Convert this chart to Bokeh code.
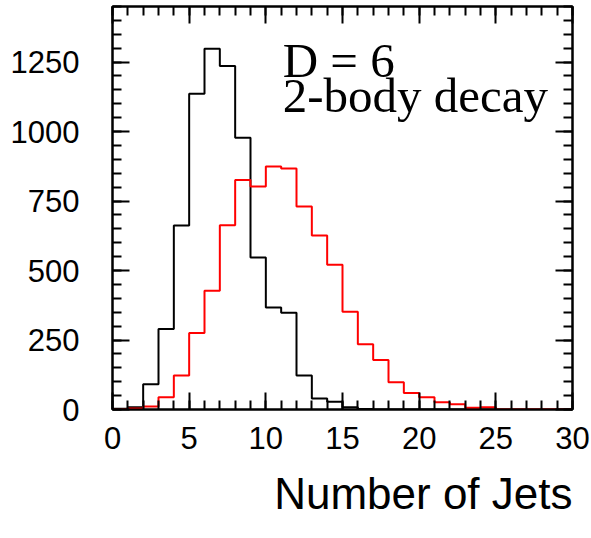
from bokeh.plotting import figure
from bokeh.models import (LinearAxis, SingleIntervalTicker, Range1d, Label, Title,
                          CustomJSTickFormatter)
from bokeh.embed import file_html
from bokeh.resources import INLINE

# ---- data ----
bin_edges = list(range(0, 31))
black_counts = [3, 8, 91, 290, 662, 1136, 1298, 1236, 978, 547, 367, 348, 122, 40, 28,
                8, 2, 0, 0, 0, 0, 0, 0, 0, 0, 0, 0, 0, 0, 0]
red_counts = [1, 4, 11, 44, 122, 275, 427, 663, 826, 802, 874, 867, 730, 626, 521,
              352, 235, 178, 98, 59, 44, 26, 19, 6, 8, 0, 0, 0, 0, 0]
label_line1 = "D = 6"
label_line2 = "2-body decay"
x_label = "Number of Jets"

p = figure(width=591, height=538, output_backend="svg", toolbar_location=None,
           x_range=Range1d(0, 30), y_range=Range1d(0, 1450),
           min_border_left=112, min_border_right=19, min_border_top=6,
           min_border_bottom=129, x_axis_location=None, y_axis_location=None)
p.background_fill_color = "white"
p.border_fill_color = "white"
p.grid.visible = False
p.outline_line_color = "black"
p.outline_line_width = 2


def style_axis(ax, labels=True):
    ax.axis_line_color = "black"
    ax.axis_line_width = 2
    ax.major_tick_in = 17
    ax.major_tick_out = 0
    ax.minor_tick_in = 9
    ax.minor_tick_out = 0
    ax.major_tick_line_width = 2
    ax.minor_tick_line_width = 2
    ax.major_tick_line_color = "black"
    ax.minor_tick_line_color = "black"
    ax.major_label_text_font = "Liberation Sans"
    ax.major_label_text_font_size = "31px"
    ax.major_label_text_color = "black"
    if not labels:
        ax.formatter = CustomJSTickFormatter(code="return ''")
        ax.major_label_standoff = 0


xb = LinearAxis(ticker=SingleIntervalTicker(interval=5, num_minor_ticks=5))
style_axis(xb)
xb.major_label_standoff = 17
p.add_layout(xb, "below")

xt = LinearAxis(ticker=SingleIntervalTicker(interval=5, num_minor_ticks=5))
style_axis(xt, labels=False)
p.add_layout(xt, "above")

yl = LinearAxis(ticker=SingleIntervalTicker(interval=250, num_minor_ticks=5))
style_axis(yl)
yl.major_label_standoff = 33
p.add_layout(yl, "left")

yr = LinearAxis(ticker=SingleIntervalTicker(interval=250, num_minor_ticks=5))
style_axis(yr, labels=False)
p.add_layout(yr, "right")

# histograms as step outlines
bx = bin_edges[:-1] + [bin_edges[-1]]
p.step(x=bx, y=black_counts + [black_counts[-1]], mode="after",
       line_color="black", line_width=2)
p.step(x=bx, y=red_counts + [red_counts[-1]], mode="after",
       line_color="red", line_width=2)

p.add_layout(Label(x=11.1, y=1257, text=label_line1, text_font="Liberation Serif",
                   text_font_size="49px", text_color="black",
                   text_baseline="alphabetic"))
p.add_layout(Label(x=11.1, y=1128, text=label_line2, text_font="Liberation Serif",
                   text_font_size="49px", text_color="black",
                   text_baseline="alphabetic"))

# x-axis title, right-aligned under the frame
t = Title(text=x_label, align="right", vertical_align="top",
          text_font="Liberation Sans", text_font_size="44px",
          text_font_style="normal", text_color="black", standoff=35)
p.add_layout(t, "below")

open("out.html", "w").write(file_html(p, INLINE))
